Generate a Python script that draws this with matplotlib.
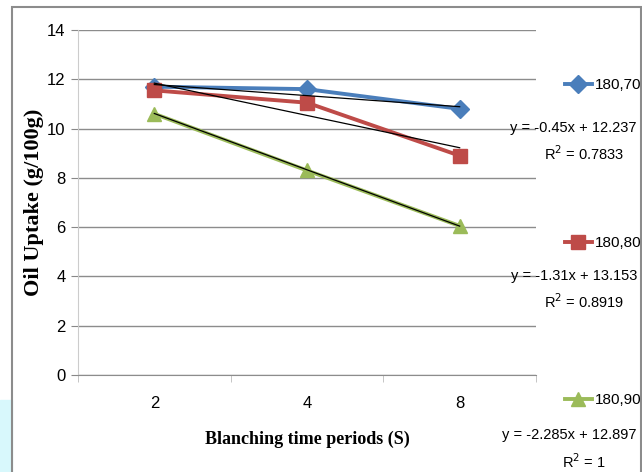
import matplotlib.pyplot as plt
import numpy as np
from matplotlib.patches import Rectangle

# data
periods = ['2', '4', '8']
s70 = [11.7, 11.6, 10.8]
s80 = [11.55, 11.05, 8.9]
s90 = [10.6, 8.3, 6.05]
names = ['180,70', '180,80', '180,90']
# trendline coefficients (slope, intercept, R2) as printed
fits = [(-0.45, 12.237, '0.7833'), (-1.31, 13.153, '0.8919'), (-2.285, 12.897, '1')]
colors = ['#4A7EBB', '#BE4B48', '#9BBB59']
markers = ['D', 's', '^']
msizes = [9, 10, 10]

narrow = ['Liberation Sans Narrow', 'Liberation Sans', 'DejaVu Sans']

fig = plt.figure(figsize=(6.42, 4.72), dpi=100)
# outer frame and the cyan strip at bottom left
fig.patches.append(Rectangle((0, 0), 12/642, 72/472, transform=fig.transFigure,
                             color='#D8F8FC', zorder=0))
fig.patches.append(Rectangle((12/642, -0.01), 1 - 13/642, 1 - 7/472 + 0.01,
                             transform=fig.transFigure, fill=False,
                             edgecolor='#8C8C8C', lw=1.5, zorder=1))

ax = fig.add_axes([78/642, 1 - 375/472, 458/642, 345/472])
x = np.arange(1, len(periods) + 1)
handles = []
for ys, c, m, ms, n in zip([s70, s80, s90], colors, markers, msizes, names):
    h, = ax.plot(x, ys, color=c, lw=2.8, marker=m, ms=ms, mec=c, label=n, zorder=3)
    handles.append(h)
for a, b, r in fits:
    ax.plot(x, a*x + b, color='black', lw=0.9, zorder=4)

ax.set_xlim(0.5, 3.5)
ax.set_ylim(0, 14)
ax.set_yticks(range(0, 15, 2))
ax.set_xticks(x)
ax.set_xticklabels(periods)
ax.xaxis.set_minor_locator(plt.FixedLocator([0.5, 1.5, 2.5, 3.5]))
ax.tick_params(axis='x', which='major', length=0, pad=15)
ax.tick_params(axis='x', which='minor', length=5, color='#BBBBBB', direction='out')
ax.tick_params(axis='y', length=5, color='#888888', pad=4)
for lab in ax.get_xticklabels() + ax.get_yticklabels():
    lab.set_family(narrow)
    lab.set_fontsize(12)
ax.grid(axis='y', color='#8C8C8C', lw=1)
ax.set_axisbelow(True)
for s in ['top', 'right']:
    ax.spines[s].set_visible(False)
ax.spines['left'].set_color('#CCCCCC')
ax.spines['bottom'].set_color('#8C8C8C')

ax.set_ylabel('Oil Uptake (g/100g)', family='Liberation Serif', fontweight='bold',
              fontsize=16, labelpad=2)
ax.set_xlabel('Blanching time periods (S)', family='Liberation Serif', fontweight='bold',
              fontsize=13, labelpad=14)

# legend-like entries on the right
leg_y = [85, 243, 400]
eq_y = [128, 276, 435]
r2_y = [154, 302, 462]
for h, n, ly, ey, ry, (a, b, r) in zip(handles, names, leg_y, eq_y, r2_y, fits):
    fig.legend([h], [n], loc='center left', bbox_to_anchor=(557/642, 1 - ly/472),
               frameon=False, handlelength=1.8, handletextpad=0.15,
               borderpad=0, prop={'family': narrow, 'size': 11})
    fig.text(637/642, 1 - ey/472, 'y = %sx + %s' % (a, b), ha='right', va='center',
             family=narrow, fontsize=10.5)
    fig.text(584/642, 1 - ry/472, 'R$^2$ = %s' % r, ha='center', va='center',
             family=narrow, fontsize=10.5)

fig.savefig('out.png', dpi=100)
